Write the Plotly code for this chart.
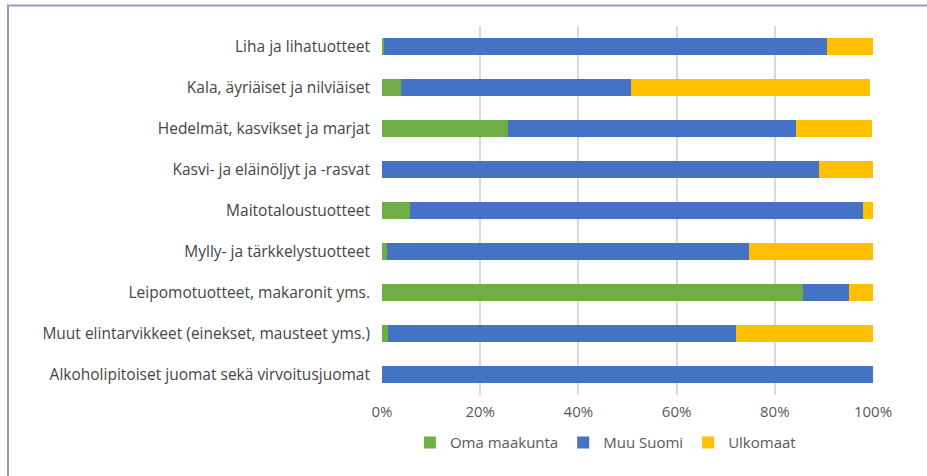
import plotly.graph_objects as go

categories = [
    "Liha ja lihatuotteet",
    "Kala, äyriäiset ja nilviäiset",
    "Hedelmät, kasvikset ja marjat",
    "Kasvi- ja eläinöljyt ja -rasvat",
    "Maitotaloustuotteet",
    "Mylly- ja tärkkelystuotteet",
    "Leipomotuotteet, makaronit yms.",
    "Muut elintarvikkeet (einekset, mausteet yms.)",
    "Alkoholipitoiset juomat sekä virvoitusjuomat",
]
oma_maakunta = [0.5, 3.9, 25.7, 0.0, 5.8, 1.0, 85.8, 1.3, 0.0]
muu_suomi = [90.1, 46.9, 58.7, 89.0, 92.2, 73.7, 9.4, 70.8, 100.0]
ulkomaat = [9.4, 48.6, 15.3, 11.0, 2.0, 25.3, 4.8, 27.9, 0.0]
tick_vals = [0, 20, 40, 60, 80, 100]
tick_text = ["0%", "20%", "40%", "60%", "80%", "100%"]

series = [
    ("Oma maakunta", oma_maakunta, "#70AD47"),
    ("Muu Suomi", muu_suomi, "#4472C4"),
    ("Ulkomaat", ulkomaat, "#FFC000"),
]

fig = go.Figure()
for name, vals, color in series:
    fig.add_trace(go.Bar(
        y=categories, x=vals, name=name, orientation="h",
        marker=dict(color=color, line=dict(width=0)),
        hoverinfo="x+name",
    ))

fig.update_layout(
    barmode="stack",
    bargap=0.58,
    width=927, height=476,
    margin=dict(l=382, r=54, t=26, b=81),
    paper_bgcolor="white", plot_bgcolor="white",
    font=dict(family="Open Sans", size=15, color="#595959"),
    xaxis=dict(range=[0, 100], tickvals=tick_vals, ticktext=tick_text,
               showgrid=True, gridcolor="#D9D9D9", gridwidth=1.5,
               zeroline=False, showline=False, ticks="", ticklabelstandoff=6,
               tickfont=dict(size=15, color="#595959")),
    yaxis=dict(autorange="reversed", showgrid=False, zeroline=False,
               ticks="", ticklabelstandoff=11,
               tickfont=dict(size=15.5, color="#454545")),
    legend=dict(orientation="h", x=0.455, xanchor="center", y=-0.085, yanchor="top",
                font=dict(size=15, color="#595959"), traceorder="normal",
                itemwidth=30, tracegroupgap=0),
    showlegend=True,
)

# chart frame (top and left edges visible; right/bottom fall outside the canvas)
fig.add_shape(type="rect", xref="paper", yref="paper",
              x0=(8 - 382) / 491, x1=(1100 - 382) / 491,
              y0=-(600 - 395) / 369, y1=1 + (26 - 5.5) / 369,
              line=dict(color="#9A9AC0", width=2), fillcolor="rgba(0,0,0,0)",
              layer="below")

fig.write_html("out.html", config={"displayModeBar": False},
               post_script=("document.documentElement.style.overflow='hidden';"
                            "document.documentElement.style.scrollbarWidth='none';"
                            "document.body.style.margin='0';"
                            "document.body.style.overflow='hidden';"
                            "document.body.style.scrollbarWidth='none';"))
